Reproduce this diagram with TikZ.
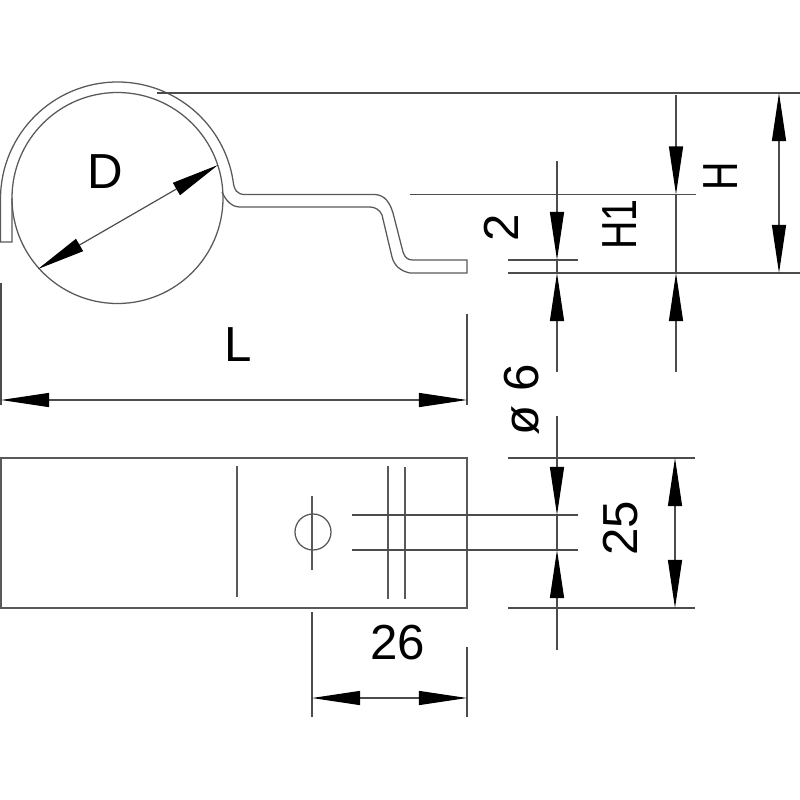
\documentclass[tikz,border=0pt]{standalone}
\usepackage{fontspec}
\setmainfont{Liberation Sans}
\usetikzlibrary{arrows.meta,calc}
\tikzset{
  part/.style={draw=black!65,line width=0.36pt},
  dimline/.style={draw=black!70,line width=0.34pt},
  tipend/.style={draw=black!70,line width=0.34pt,-{Triangle[length=4.8mm,width=1.4mm,fill=black,color=black]}},
  dimtext/.style={inner sep=0pt,font=\fontsize{14}{14}\selectfont},
}
\begin{document}
\begin{tikzpicture}[x=0.01cm,y=-0.01cm]
  \useasboundingbox (0,0) rectangle (800,800);
  % clamp, side view
  \draw[part] (117.5,198) circle (105.5);
  \draw[part] (12,198) -- (12,242) -- (0.5,242) -- (0.5,199) arc (180:351:117)
    .. controls (234,190) and (237,194.5) .. (245,194.5) -- (375,194.5)
    .. controls (385,195) and (390,203) .. (393,213) -- (403,252)
    .. controls (405,258) and (408,260) .. (413,260) -- (467,260) -- (467,273) -- (410,273)
    .. controls (400,271) and (394,265) .. (392,257) -- (382,215)
    .. controls (380,210) and (375,207) .. (370,207) -- (240,207)
    .. controls (232,207) and (226,201) .. (222,192);
  % clamp, top view
  \draw[part] (1,458) rectangle (467,608);
  \draw[part] (237,466) -- (237,597);
  \draw[part] (313,532) circle (18);
  \draw[part] (312,496) -- (312,570);
  \draw[part] (388,466) -- (388,599);
  \draw[part] (405,467) -- (405,599);
  % extension lines
  \draw[dimline] (157,93) -- (800,93);
  \draw[dimline] (410,194.5) -- (696,194.5);
  \draw[dimline] (508,260) -- (578,260);
  \draw[dimline] (508,273) -- (800,273);
  \draw[dimline] (1,283) -- (1,405);
  \draw[dimline] (467,314) -- (467,405);
  \draw[dimline] (352,515) -- (578,515);
  \draw[dimline] (352,550) -- (578,550);
  \draw[dimline] (508,458) -- (695,458);
  \draw[dimline] (508,608) -- (695,608);
  \draw[dimline] (312,612) -- (312,717);
  \draw[dimline] (467,647) -- (467,717);
  % named ends of the arrows
  \coordinate (d1) at (38,269);
  \coordinate (d2) at (218,165);
  \coordinate (l1) at (1,400);
  \coordinate (l2) at (467,400);
  \coordinate (w1) at (312,698);
  \coordinate (w2) at (467,698);
  \coordinate (b1) at (675,458);
  \coordinate (b2) at (675,608);
  \coordinate (h1) at (779,93);
  \coordinate (h2) at (779,273);
  \coordinate (g1) at (676,194.5);
  \coordinate (g2) at (676,273);
  \coordinate (t1) at (557,260);
  \coordinate (t2) at (557,273);
  \coordinate (o1) at (557,515);
  \coordinate (o2) at (557,550);
  \coordinate (ob1) at (557,161);
  \coordinate (ob2) at (557,372);
  \coordinate (ob3) at (557,416);
  \coordinate (ob4) at (557,650);
  \coordinate (gb1) at (676,95);
  \coordinate (gb2) at (676,372);
  % arrows
  \foreach \p/\q in {d1/d2,l1/l2,w1/w2,b1/b2,h1/h2}{
    \draw[tipend] ($(\p)!0.5!(\q)$) -- (\p);
    \draw[tipend] ($(\p)!0.5!(\q)$) -- (\q);
  }
  \draw[tipend] (gb1) -- (g1);
  \draw[tipend] (gb2) -- (g2);
  \draw[tipend] (ob1) -- (t1);
  \draw[tipend] (ob2) -- (t2);
  \draw[tipend] (ob3) -- (o1);
  \draw[tipend] (ob4) -- (o2);
  \draw[dimline] (o1) -- (o2);
  \draw[dimline] (t1) -- (t2);
  \draw[dimline] (g1) -- (g2);
  % labels
  \node[dimtext] (dlabel) at (105,172) {D};
  \node[dimtext] (llabel) at (238,345) {L};
  \node[dimtext,rotate=90] (tlabel) at (501,228) {2};
  \node[dimtext,rotate=90,xscale=0.8] (gilabel) at (620,224.5) {H1};
  \node[dimtext,rotate=90,xscale=0.8] (hlabel) at (721,176.5) {H};
  \node[dimtext,rotate=90] (olabel) at (522,400) {ø 6};
  \node[dimtext,rotate=90] (blabel) at (621,528) {25};
  \node[dimtext] (wlabel) at (398,643) {26};
\end{tikzpicture}
\end{document}
